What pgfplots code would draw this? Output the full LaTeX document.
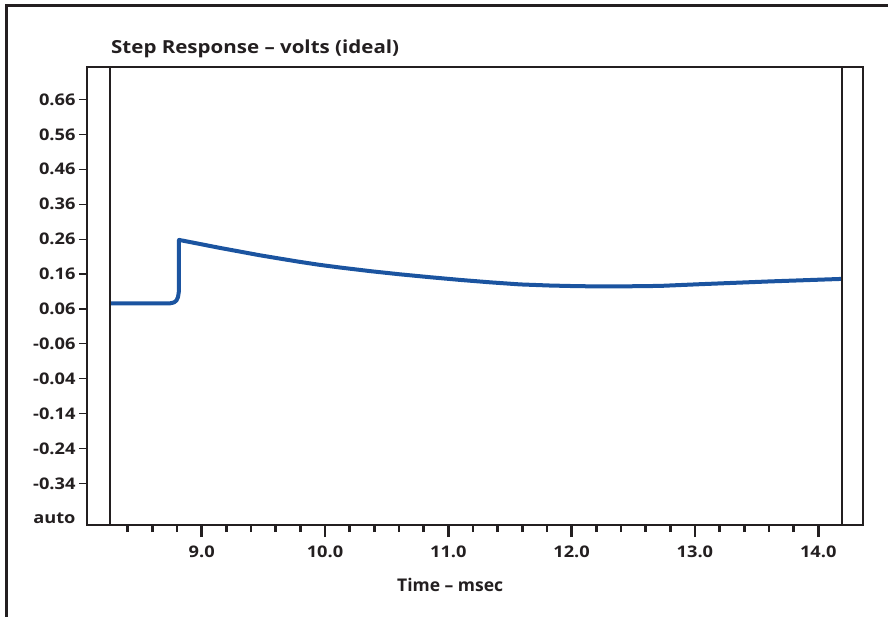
\documentclass[border=0pt]{standalone}
\usepackage{pgfplots}
\pgfplotsset{compat=1.18}
\usepackage{fontspec}
\setmainfont{Open Sans}
\newfontfamily\wide{Open Sans}[FakeStretch=1.14,Ligatures=TeX]
\definecolor{curve}{RGB}{27,84,160}
\definecolor{frame}{RGB}{35,31,32}
\begin{document}
\begin{tikzpicture}
\useasboundingbox (0,0) rectangle (888bp,617bp);
\begin{axis}[
  at={(87bp,92bp)}, anchor=south west,
  scale only axis, width=776bp, height=458bp,
  xmin=8.07, xmax=14.363, ymin=-0.559, ymax=0.753,
  axis line style={line width=1.2bp, frame},
  tick align=outside,
  xtick={9,10,11,12,13,14},
  xticklabels={9.0,10.0,11.0,12.0,13.0,14.0},
  minor xtick={8.4,8.6,8.8,9.2,9.4,9.6,9.8,10.2,10.4,10.6,10.8,11.2,11.4,11.6,11.8,12.2,12.4,12.6,12.8,13.2,13.4,13.6,13.8},
  ytick={-0.44,-0.34,-0.24,-0.14,-0.04,0.06,0.16,0.26,0.36,0.46,0.56,0.66},
  yticklabels={-0.34,-0.24,-0.14,-0.04,-0.06,0.06,0.16,0.26,0.36,0.46,0.56,0.66},
  extra y ticks={-0.54},
  extra y tick labels={auto},
  extra y tick style={major tick length=0pt, yticklabel style={xshift=-8bp}},
  xtick pos=bottom, ytick pos=left,
  major tick length=8bp, minor tick length=7bp,
  xtick style={/pgfplots/major tick length=12bp, line width=2.5bp, frame},
  ytick style={line width=1.2bp, frame},
  tick label style={font=\wide\bfseries\fontsize{16bp}{19bp}\selectfont, text=frame},
  xticklabel style={yshift=-9bp},
  title={Step Response – volts (ideal)},
  title style={at={(rel axis cs:0.0309,1)}, anchor=base west, yshift=7.7bp, font=\wide\bfseries\fontsize{18bp}{21bp}\selectfont, text=frame, inner sep=0pt},
  xlabel={Time – msec},
  xlabel style={at={(rel axis cs:0.468,0)}, anchor=base, yshift=-66bp, font=\bfseries\fontsize{17.5bp}{20bp}\selectfont, text=frame, inner sep=0pt},
  clip=false,
]
\addplot[curve, line width=4bp, line join=round] coordinates {
(8.256,0.076) (8.743,0.076) (8.775,0.0785) (8.795,0.084) (8.808,0.094) (8.816,0.112)
(8.816,0.2577) (8.986,0.246) (9.1476,0.2348) (9.3106,0.2242) (9.4728,0.2136)
(9.635,0.2041) (9.7973,0.1947) (9.959,0.1861) (10.1217,0.1786) (10.365,0.1683)
(10.6083,0.1591) (10.852,0.1508) (11.0949,0.1431) (11.3382,0.1362) (11.5815,0.1302)
(11.8248,0.1270) (12.0681,0.1250) (12.3925,0.1245) (12.7169,0.1259) (13.0414,0.1308)
(13.6091,0.1388) (14.192,0.1460)
};
\draw[line width=1.2bp, frame] (axis cs:8.256,-0.559) -- (axis cs:8.256,0.753);
\draw[line width=1.2bp, frame] (axis cs:14.192,-0.559) -- (axis cs:14.192,0.753);
\end{axis}
\draw[line width=2.5bp, frame, line join=miter] (6.3bp,0bp) -- (6.3bp,611.6bp) -- (888bp,611.6bp);
\end{tikzpicture}
\end{document}
